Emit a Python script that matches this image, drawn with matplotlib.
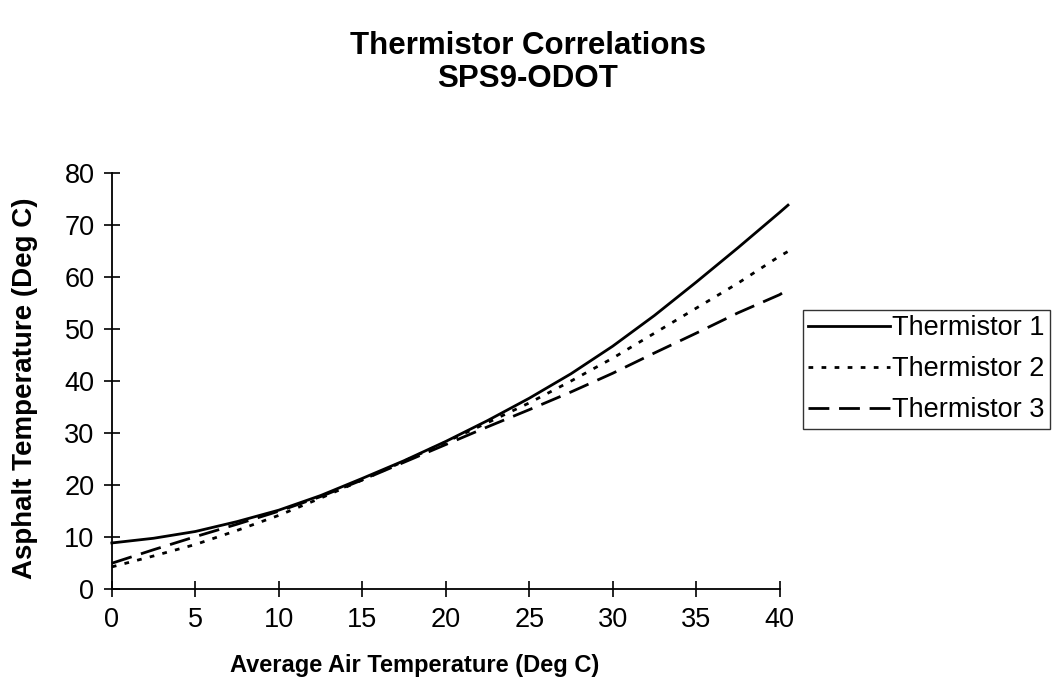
import matplotlib
matplotlib.use("Agg")
import matplotlib.pyplot as plt

plt.rcParams['font.family'] = ['Liberation Sans', 'DejaVu Sans']

# air temperature (deg C)
air_temp = [0, 2.5, 5, 7.5, 10, 12.5, 15, 17.5, 20, 22.5, 25, 27.5, 30, 32.5, 35, 37.5, 40, 40.5]

# asphalt temperature for each thermistor (deg C)
therm1 = [8.9, 9.8, 11.1, 13.0, 15.2, 18.0, 21.3, 24.7, 28.4, 32.4, 36.7, 41.4, 46.7, 52.6, 59.0, 65.6, 72.4, 73.8]
therm2 = [4.3, 6.4, 8.6, 11.3, 14.2, 17.5, 21.0, 24.6, 28.3, 32.0, 35.8, 40.0, 44.4, 49.2, 54.0, 58.8, 64.0, 64.9]
therm3 = [5.0, 7.6, 10.1, 12.5, 15.0, 17.8, 21.0, 24.4, 27.8, 31.2, 34.5, 37.9, 41.5, 45.4, 49.2, 53.1, 56.6, 57.6]

labels = ["Thermistor 1", "Thermistor 2", "Thermistor 3"]
x_ticks = [0, 5, 10, 15, 20, 25, 30, 35, 40]
y_ticks = [0, 10, 20, 30, 40, 50, 60, 70, 80]


def main():
    fig = plt.figure(figsize=(10.55, 6.86), dpi=100)
    ax = fig.add_axes([0.106, 0.141, 0.633, 0.607])

    ax.plot(air_temp, therm1, color='black', lw=2.0, ls='-', label=labels[0], clip_on=False)
    ax.plot(air_temp, therm2, color='black', lw=2.0, ls=(0, (1.7, 3.0)), label=labels[1], clip_on=False)
    ax.plot(air_temp, therm3, color='black', lw=2.0, ls=(0, (7.5, 3.5)), label=labels[2], clip_on=False)

    ax.set_xlim(0, 40)
    ax.set_ylim(0, 80)
    ax.set_xticks(x_ticks)
    ax.set_yticks(y_ticks)
    ax.spines['top'].set_visible(False)
    ax.spines['right'].set_visible(False)
    for s in ('left', 'bottom'):
        ax.spines[s].set_linewidth(1.3)
    ax.tick_params(direction='inout', length=11, width=1.2, labelsize=19.5)
    ax.tick_params(axis='y', pad=7)
    ax.tick_params(axis='x', pad=7)

    ax.set_xlabel("Average Air Temperature (Deg C)", fontsize=17, fontweight='bold')
    ax.xaxis.set_label_coords(0.454, -0.156)
    ax.set_ylabel("Asphalt Temperature (Deg C)", fontsize=20, fontweight='bold')
    ax.yaxis.set_label_coords(-0.111, 0.483)

    fig.text(0.5, 0.955, "Thermistor Correlations\nSPS9-ODOT", ha='center', va='top',
             fontsize=22.5, fontweight='bold', linespacing=1.15)

    leg = fig.legend(loc='upper left', bbox_to_anchor=(0.761, 0.548), fontsize=19.5,
                     frameon=True, fancybox=False, handlelength=3.0, handletextpad=0.1,
                     labelspacing=0.55, borderpad=0.2, borderaxespad=0)
    leg.get_frame().set_edgecolor('black')
    leg.get_frame().set_linewidth(1.0)

    fig.savefig("out.png", dpi=100)


if __name__ == "__main__":
    main()
